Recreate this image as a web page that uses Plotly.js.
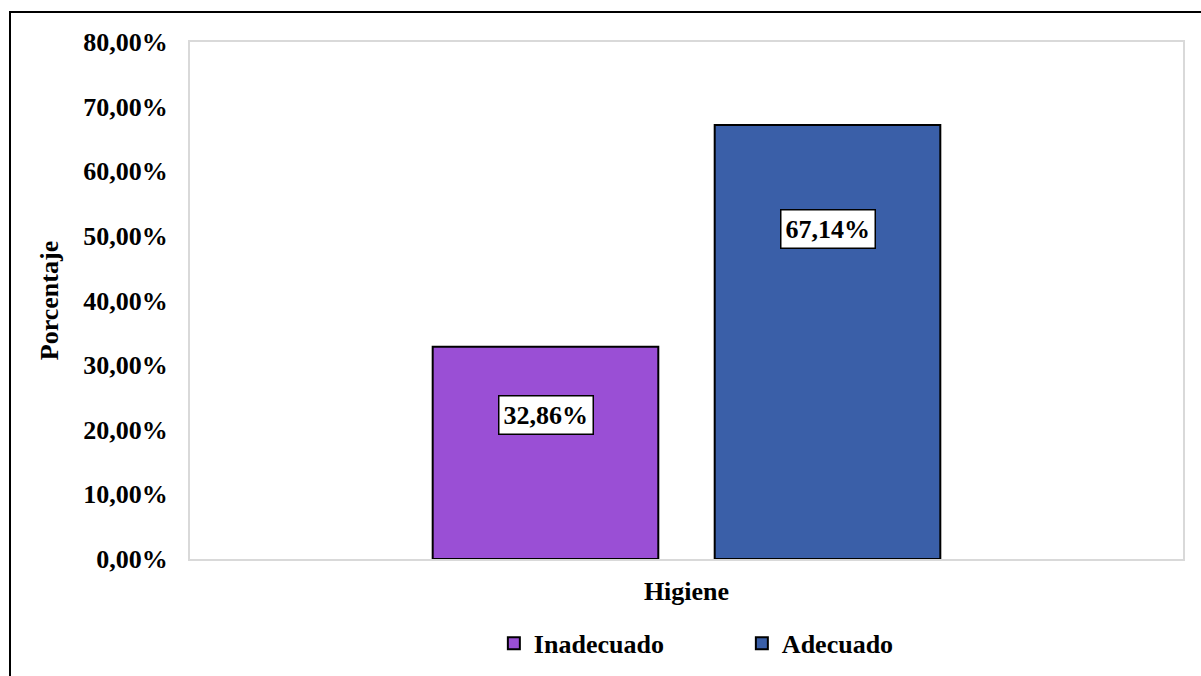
<!DOCTYPE html>
<html>
<head>
<meta charset="utf-8">
<script src="https://cdn.plot.ly/plotly-3.0.1.min.js"></script>
<style>
  html, body { margin: 0; padding: 0; background: #fff; }
  #wrap { position: relative; width: 1201px; height: 676px; overflow: hidden; }
  #chart { position: absolute; left: 0; top: 0; width: 1201px; height: 676px; }
  #frame { position: absolute; left: 9px; top: 11px; width: 1300px; height: 800px;
           border-left: 2px solid #000; border-top: 2px solid #000; pointer-events: none; }
</style>
</head>
<body>
<div id="wrap"><div id="chart"></div><div id="frame"></div></div>
<script>
const categories = ["Higiene"];
const seriesNames = ["Inadecuado", "Adecuado"];
const inadecuado = [32.86];
const adecuado = [67.14];
const yTicks = [0, 10, 20, 30, 40, 50, 60, 70, 80];

const FONT = "Liberation Serif, Times New Roman, serif";
const colors = ["#9A4FD5", "#3A5FA8"];
const seriesValues = [inadecuado, adecuado];

function fmt(v) { return v.toFixed(2).replace(".", ",") + "%"; }

const traces = seriesNames.map((name, i) => ({
  type: "bar",
  name: "<b>" + name + "</b>",
  x: categories,
  y: seriesValues[i],
  marker: { color: colors[i], line: { color: "#000", width: 2 } },
  hoverinfo: "skip"
}));

const labelFrac = [0.68, 0.76];
const annotations = seriesValues.map((vals, i) => ({
  x: categories[0], y: vals[0] * labelFrac[i], xref: "x", yref: "y",
  xshift: (i === 0 ? -141 : 141),
  text: "<b>" + fmt(vals[0]) + "</b>",
  showarrow: false,
  font: { family: FONT, size: 26, color: "#000" },
  bgcolor: "#fff", bordercolor: "#000", borderwidth: 1.5, borderpad: 4
}));

const layout = {
  width: 1201, height: 676,
  margin: { l: 190, r: 18, t: 42, b: 117 },
  paper_bgcolor: "#fff", plot_bgcolor: "#fff",
  separators: ",.",
  barmode: "group",
  bargap: 0.432,
  bargroupgap: 0.2,
  showlegend: true,
  font: { family: FONT, size: 26, color: "#000" },
  xaxis: {
    type: "category", automargin: false,
    showgrid: false, zeroline: false,
    showline: true, mirror: true, linecolor: "#d9d9d9", linewidth: 2,
    ticks: "", ticklabelstandoff: 8,
    tickfont: { family: FONT, size: 26, color: "#000" },
    tickprefix: "<b>", ticksuffix: "</b>"
  },
  yaxis: {
    range: [0, 80], tickvals: yTicks, automargin: false,
    ticktext: yTicks.map(v => "<b>" + fmt(v) + "</b>"),
    showgrid: false, zeroline: false,
    showline: true, mirror: true, linecolor: "#d9d9d9", linewidth: 2,
    ticks: "", ticklabelstandoff: 15,
    tickfont: { family: FONT, size: 26, color: "#000" },
    title: { text: "<b>Porcentaje</b>", font: { family: FONT, size: 26, color: "#000" }, standoff: 17 }
  },
  legend: {
    orientation: "h", x: 0.306, xanchor: "left",
    yref: "container", y: 0.083, yanchor: "top",
    entrywidth: 203, entrywidthmode: "pixels",
    font: { family: FONT, size: 26, color: "#000" },
    itemclick: false, itemdoubleclick: false
  },
  annotations: annotations
};

Plotly.newPlot("chart", traces, layout, { displayModeBar: false, staticPlot: true });
</script>
</body>
</html>
